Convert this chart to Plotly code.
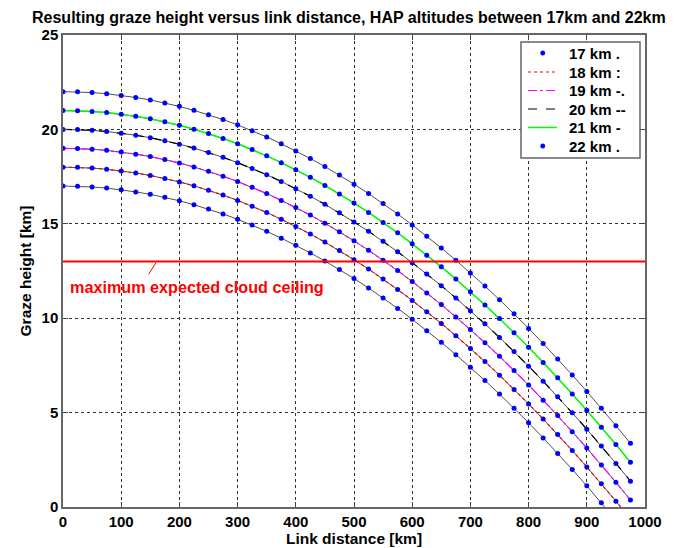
import plotly.graph_objects as go

link_distance_km = [0, 25, 50, 75, 100, 125, 150, 175, 200, 225, 250, 275, 300, 325, 350,
                    375, 400, 425, 450, 475, 500, 525, 550, 575, 600, 625, 650, 675, 700,
                    725, 750, 775, 800, 825, 850, 875, 900, 925, 950, 975]

graze_17 = [17.00, 16.99, 16.95, 16.89, 16.80, 16.69, 16.56, 16.40, 16.22, 16.01, 15.78, 15.52, 15.24, 14.93,
            14.60, 14.24, 13.86, 13.46, 13.03, 12.58, 12.10, 11.60, 11.07, 10.52, 9.94, 9.34, 8.72, 8.07,
            7.40, 6.70, 5.98, 5.23, 4.46, 3.66, 2.84, 1.99, 1.12, 0.23, -0.69, -1.63]
graze_18 = [18.00, 17.99, 17.95, 17.89, 17.80, 17.69, 17.56, 17.40, 17.22, 17.01, 16.78, 16.52, 16.24, 15.93,
            15.60, 15.24, 14.86, 14.46, 14.03, 13.58, 13.10, 12.60, 12.07, 11.52, 10.94, 10.34, 9.72, 9.07,
            8.40, 7.70, 6.98, 6.23, 5.46, 4.66, 3.84, 2.99, 2.12, 1.23, 0.31, -0.63]
graze_19 = [19.00, 18.99, 18.95, 18.89, 18.80, 18.69, 18.56, 18.40, 18.22, 18.01, 17.78, 17.52, 17.24, 16.93,
            16.60, 16.24, 15.86, 15.46, 15.03, 14.58, 14.10, 13.60, 13.07, 12.52, 11.94, 11.34, 10.72, 10.07,
            9.40, 8.70, 7.98, 7.23, 6.46, 5.66, 4.84, 3.99, 3.12, 2.23, 1.31, 0.37]
graze_20 = [20.00, 19.99, 19.95, 19.89, 19.80, 19.69, 19.56, 19.40, 19.22, 19.01, 18.78, 18.52, 18.24, 17.93,
            17.60, 17.24, 16.86, 16.46, 16.03, 15.58, 15.10, 14.60, 14.07, 13.52, 12.94, 12.34, 11.72, 11.07,
            10.40, 9.70, 8.98, 8.23, 7.46, 6.66, 5.84, 4.99, 4.12, 3.23, 2.31, 1.37]
graze_21 = [21.00, 20.99, 20.95, 20.89, 20.80, 20.69, 20.56, 20.40, 20.22, 20.01, 19.78, 19.52, 19.24, 18.93,
            18.60, 18.24, 17.86, 17.46, 17.03, 16.58, 16.10, 15.60, 15.07, 14.52, 13.94, 13.34, 12.72, 12.07,
            11.40, 10.70, 9.98, 9.23, 8.46, 7.66, 6.84, 5.99, 5.12, 4.23, 3.31, 2.37]
graze_22 = [22.00, 21.99, 21.95, 21.89, 21.80, 21.69, 21.56, 21.40, 21.22, 21.01, 20.78, 20.52, 20.24, 19.93,
            19.60, 19.24, 18.86, 18.46, 18.03, 17.58, 17.10, 16.60, 16.07, 15.52, 14.94, 14.34, 13.72, 13.07,
            12.40, 11.70, 10.98, 10.23, 9.46, 8.66, 7.84, 6.99, 6.12, 5.23, 4.31, 3.37]

series_names = ["17 km .", "18 km :", "19 km -.", "20 km --", "21 km -", "22 km ."]
series_values = [graze_17, graze_18, graze_19, graze_20, graze_21, graze_22]

cloud_ceiling_km = 13
cloud_x_range = [0, 1000]
cloud_label = "maximum expected cloud ceiling"

x_ticks = [0, 100, 200, 300, 400, 500, 600, 700, 800, 900, 1000]
y_ticks = [0, 5, 10, 15, 20, 25]

FONT = "Liberation Sans"
BLUE = "#0000ff"

# The page body has an 8px margin, so the figure is sized/placed to compensate.
OFF = 8
W, H = 684 - OFF, 548 - OFF
ML, MR, MT, MB = 55, 39, 27, 41
PW, PH = W - ML - MR, H - MT - MB


def px_x(px):  # window pixel -> paper fraction
    return (px - OFF - ML) / PW


def px_y(py):
    return (H - MB - (py - OFF)) / PH


fig = go.Figure()

# thin black reference lines under every curve
for vals in series_values:
    fig.add_trace(go.Scatter(x=link_distance_km, y=vals, mode="lines",
                             line=dict(color="#222222", width=0.8),
                             showlegend=False, hoverinfo="skip"))

styles = [
    dict(mode="markers", marker=dict(color=BLUE, size=5)),
    dict(mode="lines", line=dict(color="#ff0000", width=1.2, dash="dot")),
    dict(mode="lines", line=dict(color="#ff00ff", width=1.2, dash="dashdot")),
    dict(mode="lines", line=dict(color="#000000", width=1.2, dash="dash")),
    dict(mode="lines", line=dict(color="#00ff00", width=1.5)),
    dict(mode="markers", marker=dict(color=BLUE, size=5)),
]
for name, vals, st in zip(series_names, series_values, styles):
    fig.add_trace(go.Scatter(x=link_distance_km, y=vals, name=name, showlegend=False, **st))

# blue dots on the middle curves
for vals in series_values[1:5]:
    fig.add_trace(go.Scatter(x=link_distance_km, y=vals, mode="markers",
                             marker=dict(color=BLUE, size=5),
                             showlegend=False, hoverinfo="skip"))

fig.add_trace(go.Scatter(x=cloud_x_range, y=[cloud_ceiling_km, cloud_ceiling_km], mode="lines",
                         line=dict(color="#ff0000", width=2), showlegend=False))

fig.add_shape(type="line", xref="x", yref="y", x0=147, y0=12.33, x1=160, y1=12.95,
              line=dict(color="#ff0000", width=1))
fig.add_annotation(x=8, y=11.67, xref="x", yref="y", xanchor="left", yanchor="middle",
                   text=cloud_label, showarrow=False,
                   font=dict(family=FONT, size=16.2, color="#ff0000", weight="bold"))

# legend box (drawn manually to match the MATLAB layout)
fig.add_shape(type="rect", xref="paper", yref="paper",
              x0=px_x(521), x1=px_x(640), y0=px_y(158), y1=px_y(42),
              line=dict(color="#666666", width=1.5), fillcolor="white", layer="above")
row_y = [53, 72, 90.5, 109, 127.5, 146]
for name, st, ry in zip(series_names, styles, row_y):
    if st["mode"] == "markers":
        fig.add_shape(type="circle", xref="paper", yref="paper",
                      x0=px_x(540.5), x1=px_x(545), y0=px_y(ry + 2.25), y1=px_y(ry - 2.25),
                      line=dict(color=BLUE, width=0.5), fillcolor=BLUE, layer="above")
    else:
        ln = st["line"]
        fig.add_shape(type="line", xref="paper", yref="paper",
                      x0=px_x(528), x1=px_x(557), y0=px_y(ry), y1=px_y(ry),
                      line=dict(color=ln["color"], width=ln["width"], dash=ln.get("dash", "solid")),
                      layer="above")
    fig.add_annotation(x=px_x(567), y=px_y(ry), xref="paper", yref="paper",
                       xanchor="left", yanchor="middle", text=name, showarrow=False,
                       font=dict(family=FONT, size=15, color="black", weight="bold"))

axis_common = dict(showline=True, linecolor="#666666", linewidth=1.5, mirror="ticks",
                   ticks="inside", ticklen=5, tickcolor="#444444",
                   showgrid=True, gridcolor="#333333", griddash="dot", gridwidth=1,
                   zeroline=False, automargin=False,
                   tickfont=dict(family=FONT, size=15, color="black", weight="bold"))

fig.update_xaxes(range=[0, 1000], tickvals=x_ticks, **axis_common,
                 title=dict(text="Link distance [km]", standoff=2,
                            font=dict(family=FONT, size=15.5, color="black", weight="bold")))
fig.update_yaxes(range=[0, 25], tickvals=y_ticks, **axis_common,
                 title=dict(text="Graze height [km]", standoff=6,
                            font=dict(family=FONT, size=15.5, color="black", weight="bold")))

fig.update_layout(
    width=W, height=H,
    margin=dict(l=ML, r=MR, t=MT, b=MB),
    paper_bgcolor="white", plot_bgcolor="white",
    title=dict(text="Resulting graze height versus link distance, HAP altitudes between 17km and 22km",
               x=(32 - OFF) / W, xref="container", xanchor="left",
               y=1 - (17 - OFF) / H, yref="container", yanchor="middle",
               font=dict(family=FONT, size=16, color="black", weight="bold"),
               automargin=False),
    showlegend=False,
)

fig.write_html("out.html")
